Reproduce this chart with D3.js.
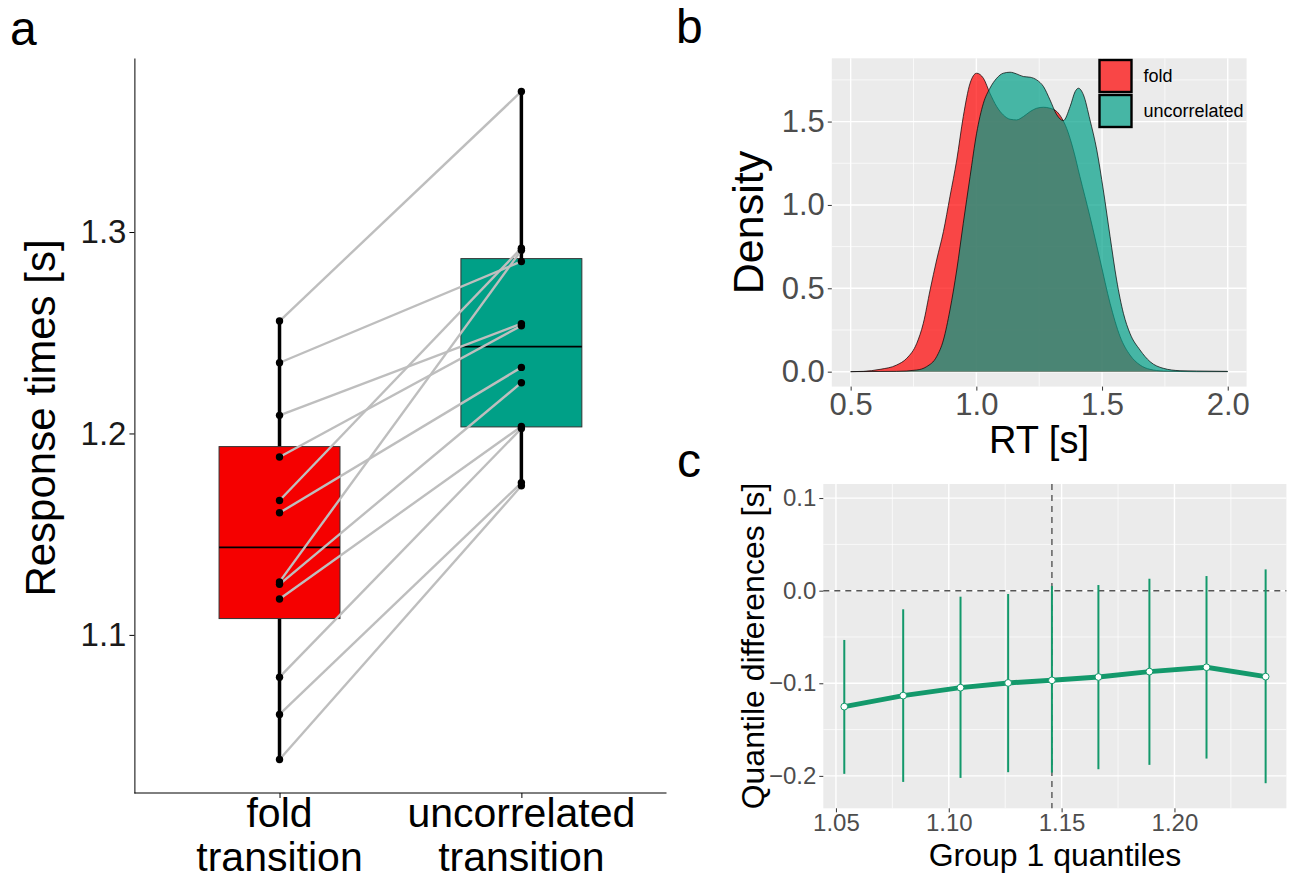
<!DOCTYPE html>
<head>
<meta charset='utf-8'>
<style>
  body { margin: 0; background: #fff; font-family: 'Liberation Sans', Arial, sans-serif; }
  .panel-bg { fill: #ebebeb; }
  .grid-major { stroke: #fff; stroke-width: 1.4px; }
  .grid-minor { stroke: #fff; stroke-width: 0.7px; }
  .axis-a path, .axis-a line { stroke: #000; stroke-width: 1px; }
  .axis-g line { stroke: #333; stroke-width: 1px; }
  .axis-g path { display: none; }
  .tick-grey text { fill: #4d4d4d; }
</style>
</head>
<body>
<svg id='fig' width='1290' height='880'></svg>
<script src='https://cdn.jsdelivr.net/npm/d3@7'></script>
<script>
  // ---- panel a: paired response times
  const conditions = ['fold', 'uncorrelated']
  const condLabels = [['fold', 'transition'], ['uncorrelated', 'transition']]
  const foldRT = [1.2558, 1.2351, 1.2090, 1.1883, 1.1667, 1.1606, 1.1263, 1.1251, 1.1178, 1.0790, 1.0605, 1.0381]
  const uncRT  = [1.3698, 1.2854, 1.2545, 1.2535, 1.2920, 1.2328, 1.2910, 1.2252, 1.2035, 1.2025, 1.1755, 1.1740]
  const rtTicksA = [1.1, 1.2, 1.3]
  const boxColors = ['#f50000', '#00a087']

  // ---- panel b: RT densities
  const foldDensX = [0.500, 0.550, 0.617, 0.683, 0.723, 0.763, 0.789, 0.816, 0.842, 0.869, 0.895, 0.922, 0.948, 0.975, 1.001, 1.028, 1.054, 1.081, 1.107, 1.134, 1.160, 1.187, 1.214, 1.240, 1.267, 1.293, 1.320, 1.340, 1.359, 1.386, 1.412, 1.452, 1.492, 1.532, 1.572, 1.611, 1.651, 1.691, 1.744, 1.877, 2.000]
  const foldDens  = [0.000, 0.002, 0.014, 0.040, 0.080, 0.170, 0.290, 0.490, 0.670, 0.840, 1.050, 1.270, 1.530, 1.730, 1.790, 1.760, 1.670, 1.590, 1.540, 1.514, 1.510, 1.530, 1.560, 1.580, 1.586, 1.580, 1.560, 1.520, 1.460, 1.330, 1.170, 0.930, 0.670, 0.410, 0.210, 0.100, 0.040, 0.014, 0.004, 0.000, 0.000]
  const uncDensX  = [0.500, 0.683, 0.763, 0.802, 0.842, 0.869, 0.895, 0.922, 0.948, 0.975, 1.001, 1.028, 1.054, 1.081, 1.107, 1.134, 1.160, 1.187, 1.214, 1.240, 1.267, 1.293, 1.320, 1.346, 1.373, 1.393, 1.406, 1.426, 1.452, 1.479, 1.505, 1.532, 1.558, 1.585, 1.611, 1.651, 1.691, 1.744, 1.810, 1.877, 2.000]
  const uncDens   = [0.000, 0.002, 0.010, 0.030, 0.090, 0.190, 0.370, 0.610, 0.890, 1.170, 1.430, 1.610, 1.700, 1.760, 1.790, 1.796, 1.786, 1.770, 1.766, 1.750, 1.710, 1.630, 1.540, 1.506, 1.590, 1.680, 1.700, 1.660, 1.510, 1.330, 1.090, 0.810, 0.550, 0.350, 0.230, 0.130, 0.060, 0.020, 0.006, 0.004, 0.002]
  const densXTicks = [0.5, 1.0, 1.5, 2.0]
  const densYTicks = [0, 0.5, 1.0, 1.5]
  const densColors = ['#ff0000', '#00a087']

  // ---- panel c: shift function
  const quantX   = [1.0537, 1.0798, 1.1052, 1.1263, 1.1457, 1.1663, 1.1889, 1.2142, 1.2404]
  const quantDiff = [-0.1252, -0.1133, -0.1047, -0.0996, -0.0968, -0.0932, -0.0874, -0.0827, -0.0928]
  const ciLow  = [-0.1978, -0.2065, -0.2022, -0.1960, -0.1964, -0.1928, -0.1881, -0.1813, -0.2079]
  const ciHigh = [-0.0532, -0.0201, -0.0065, -0.0036, 0.0050, 0.0061, 0.0129, 0.0158, 0.0230]
  const groupMedian = 1.1457
  const qxTicks = [1.05, 1.10, 1.15, 1.20]
  const qyTicks = [-0.2, -0.1, 0.0, 0.1]
  const shiftColor = '#13996b'

  const svg = d3.select('#fig')

  // panel letters
  svg.append('text').attr('x', 10).attr('y', 45).attr('font-size', 48).text('a')
  svg.append('text').attr('x', 676).attr('y', 43).attr('font-size', 48).text('b')
  svg.append('text').attr('x', 677).attr('y', 477).attr('font-size', 48).text('c')

  // ================= panel a =================
  const xA = d3.scalePoint().domain(conditions).range([134.4, 666.5]).padding(0.6)
  const yA = d3.scaleLinear().domain([1.0215, 1.3864]).range([793, 58])
  const gA = svg.append('g')

  const series = [foldRT, uncRT]
  const stats = series.map((vals, i) => {
    const s = vals.slice().sort(d3.ascending)
    return {
      cond: conditions[i],
      q1: d3.quantile(s, 0.25), med: d3.quantile(s, 0.5), q3: d3.quantile(s, 0.75),
      min: s[0], max: s[s.length - 1], color: boxColors[i]
    }
  })
  const boxW = xA.step() * 0.5

  // whiskers (behind boxes)
  gA.selectAll('.whisker').data(stats).enter().append('line')
    .attr('x1', d => xA(d.cond)).attr('x2', d => xA(d.cond))
    .attr('y1', d => yA(d.min)).attr('y2', d => yA(d.max))
    .attr('stroke', '#000').attr('stroke-width', 3.5)

  gA.selectAll('.box').data(stats).enter().append('rect')
    .attr('x', d => xA(d.cond) - boxW / 2).attr('width', boxW)
    .attr('y', d => yA(d.q3)).attr('height', d => yA(d.q1) - yA(d.q3))
    .attr('fill', d => d.color).attr('stroke', '#333').attr('stroke-width', 1)

  gA.selectAll('.median').data(stats).enter().append('line')
    .attr('x1', d => xA(d.cond) - boxW / 2).attr('x2', d => xA(d.cond) + boxW / 2)
    .attr('y1', d => yA(d.med)).attr('y2', d => yA(d.med))
    .attr('stroke', '#000').attr('stroke-width', 1.8)

  // paired lines
  const pairs = foldRT.map((v, i) => [v, uncRT[i]])
  gA.selectAll('.pair').data(pairs).enter().append('line')
    .attr('x1', xA('fold')).attr('x2', xA('uncorrelated'))
    .attr('y1', d => yA(d[0])).attr('y2', d => yA(d[1]))
    .attr('stroke', '#bebebe').attr('stroke-width', 2.4)

  series.forEach((vals, i) => {
    gA.selectAll('.dot' + i).data(vals).enter().append('circle')
      .attr('cx', xA(conditions[i])).attr('cy', d => yA(d))
      .attr('r', 3.7).attr('fill', '#000')
  })

  const axLeftA = svg.append('g').attr('class', 'axis-a')
    .attr('transform', 'translate(134.4,0)')
    .call(d3.axisLeft(yA).tickValues(rtTicksA).tickFormat(d3.format('.1f')).tickSize(5).tickSizeOuter(0).tickPadding(3))
  axLeftA.selectAll('text').attr('font-size', 33).attr('fill', '#1a1a1a').attr('font-family', 'Liberation Sans, Arial, sans-serif')

  const axBotA = svg.append('g').attr('class', 'axis-a')
    .attr('transform', 'translate(0,793)')
    .call(d3.axisBottom(xA).tickSize(5).tickSizeOuter(0).tickFormat(''))
  axBotA.select('.domain').attr('d', 'M134.4,0H666.5')
  condLabels.forEach((lines, i) => {
    const t = svg.append('text').attr('text-anchor', 'middle').attr('font-size', 41).attr('fill', '#000')
    lines.forEach((l, j) => t.append('tspan').attr('x', xA(conditions[i])).attr('y', 827 + j * 44).text(l))
  })
  svg.append('text').attr('transform', 'translate(55,418) rotate(-90)')
    .attr('text-anchor', 'middle').attr('font-size', 42).text('Response times [s]')

  // ================= panel b =================
  const xB = d3.scaleLinear().domain([0.425, 2.075]).range([831.8, 1246.6])
  const yB = d3.scaleLinear().domain([-0.0895, 1.8795]).range([386.6, 58.3])
  const gB = svg.append('g')
  gB.append('rect').attr('class', 'panel-bg')
    .attr('x', 831.8).attr('y', 58.3).attr('width', 1246.6 - 831.8).attr('height', 386.6 - 58.3)
  const minorXB = densXTicks.slice(0, -1).map(d => d + 0.25)
  const minorYB = densYTicks.map(d => d + 0.25)
  gB.selectAll('.mxb').data(minorXB).enter().append('line').attr('class', 'grid-minor')
    .attr('x1', d => xB(d)).attr('x2', d => xB(d)).attr('y1', 58.3).attr('y2', 386.6)
  gB.selectAll('.myb').data(minorYB).enter().append('line').attr('class', 'grid-minor')
    .attr('y1', d => yB(d)).attr('y2', d => yB(d)).attr('x1', 831.8).attr('x2', 1246.6)
  gB.selectAll('.gxb').data(densXTicks).enter().append('line').attr('class', 'grid-major')
    .attr('x1', d => xB(d)).attr('x2', d => xB(d)).attr('y1', 58.3).attr('y2', 386.6)
  gB.selectAll('.gyb').data(densYTicks).enter().append('line').attr('class', 'grid-major')
    .attr('y1', d => yB(d)).attr('y2', d => yB(d)).attr('x1', 831.8).attr('x2', 1246.6)

  const densSeries = [
    { pts: foldDensX.map((x, i) => [x, foldDens[i]]), color: densColors[0] },
    { pts: uncDensX.map((x, i) => [x, uncDens[i]]), color: densColors[1] }
  ]
  const area = d3.area().x(d => xB(d[0])).y0(yB(0)).y1(d => yB(d[1])).curve(d3.curveMonotoneX)
  const outline = d3.line().x(d => xB(d[0])).y(d => yB(d[1])).curve(d3.curveMonotoneX)
  densSeries.forEach(s => {
    gB.append('path').attr('d', area(s.pts)).attr('fill', s.color).attr('fill-opacity', 0.7)
    gB.append('path').attr('d', outline(s.pts)).attr('fill', 'none').attr('stroke', '#000').attr('stroke-width', 0.7)
  })

  const axLeftB = svg.append('g').attr('class', 'axis-g tick-grey')
    .attr('transform', 'translate(831.8,0)')
    .call(d3.axisLeft(yB).tickValues(densYTicks).tickFormat(d3.format('.1f')).tickSize(4).tickPadding(3))
  axLeftB.selectAll('text').attr('font-size', 31).attr('font-family', 'Liberation Sans, Arial, sans-serif')
  const axBotB = svg.append('g').attr('class', 'axis-g tick-grey')
    .attr('transform', 'translate(0,386.6)')
    .call(d3.axisBottom(xB).tickValues(densXTicks).tickFormat(d3.format('.1f')).tickSize(4).tickPadding(2))
  axBotB.selectAll('text').attr('font-size', 31).attr('font-family', 'Liberation Sans, Arial, sans-serif')

  svg.append('text').attr('transform', 'translate(763,222.5) rotate(-90)')
    .attr('text-anchor', 'middle').attr('font-size', 43).text('Density')
  svg.append('text').attr('x', 1039).attr('y', 453)
    .attr('text-anchor', 'middle').attr('font-size', 38).text('RT [s]')

  // legend
  const legend = svg.append('g').attr('transform', 'translate(1099.5,60)')
  const legItems = ['fold', 'uncorrelated']
  legend.selectAll('.key-bg').data(legItems).enter().append('rect')
    .attr('x', 0).attr('y', (d, i) => i * 35).attr('width', 32).attr('height', 32).attr('fill', '#ebebeb')
  legend.selectAll('.key').data(legItems).enter().append('rect')
    .attr('x', 0).attr('y', (d, i) => i * 35).attr('width', 32).attr('height', 32)
    .attr('fill', (d, i) => densColors[i]).attr('fill-opacity', 0.7)
    .attr('stroke', '#000').attr('stroke-width', 2.4)
  legend.selectAll('.lab').data(legItems).enter().append('text')
    .attr('x', 44).attr('y', (d, i) => i * 35 + 22).attr('font-size', 18).text(d => d)

  // ================= panel c =================
  const xC = d3.scaleLinear().domain([1.0444, 1.2496]).range([823.3, 1286.4])
  const yC = d3.scaleLinear().domain([-0.235, 0.1152]).range([808.3, 484])
  const gC = svg.append('g')
  gC.append('rect').attr('class', 'panel-bg')
    .attr('x', 823.3).attr('y', 484).attr('width', 1286.4 - 823.3).attr('height', 808.3 - 484)
  const minorXC = [1.075, 1.125, 1.175, 1.225]
  const minorYC = [-0.15, -0.05, 0.05]
  gC.selectAll('.mxc').data(minorXC).enter().append('line').attr('class', 'grid-minor')
    .attr('x1', d => xC(d)).attr('x2', d => xC(d)).attr('y1', 484).attr('y2', 808.3)
  gC.selectAll('.myc').data(minorYC).enter().append('line').attr('class', 'grid-minor')
    .attr('y1', d => yC(d)).attr('y2', d => yC(d)).attr('x1', 823.3).attr('x2', 1286.4)
  gC.selectAll('.gxc').data(qxTicks).enter().append('line').attr('class', 'grid-major')
    .attr('x1', d => xC(d)).attr('x2', d => xC(d)).attr('y1', 484).attr('y2', 808.3)
  gC.selectAll('.gyc').data(qyTicks).enter().append('line').attr('class', 'grid-major')
    .attr('y1', d => yC(d)).attr('y2', d => yC(d)).attr('x1', 823.3).attr('x2', 1286.4)

  gC.append('line').attr('x1', 823.3).attr('x2', 1286.4).attr('y1', yC(0)).attr('y2', yC(0))
    .attr('stroke', '#555').attr('stroke-width', 1.4).attr('stroke-dasharray', '6,5')
  gC.append('line').attr('x1', xC(groupMedian)).attr('x2', xC(groupMedian)).attr('y1', 484).attr('y2', 808.3)
    .attr('stroke', '#555').attr('stroke-width', 1.4).attr('stroke-dasharray', '6,5')

  gC.selectAll('.ci').data(quantX).enter().append('line')
    .attr('x1', d => xC(d)).attr('x2', d => xC(d))
    .attr('y1', (d, i) => yC(ciLow[i])).attr('y2', (d, i) => yC(ciHigh[i]))
    .attr('stroke', shiftColor).attr('stroke-width', 2)
  const shiftPts = quantX.map((x, i) => [x, quantDiff[i]])
  gC.append('path').attr('d', d3.line().x(d => xC(d[0])).y(d => yC(d[1]))(shiftPts))
    .attr('fill', 'none').attr('stroke', shiftColor).attr('stroke-width', 5)
  gC.selectAll('.qp').data(shiftPts).enter().append('circle')
    .attr('cx', d => xC(d[0])).attr('cy', d => yC(d[1])).attr('r', 3.4)
    .attr('fill', '#fff').attr('stroke', shiftColor).attr('stroke-width', 1)

  const axLeftC = svg.append('g').attr('class', 'axis-g tick-grey')
    .attr('transform', 'translate(823.3,0)')
    .call(d3.axisLeft(yC).tickValues(qyTicks).tickFormat(d3.format('.1f')).tickSize(4).tickPadding(3))
  axLeftC.selectAll('text').attr('font-size', 24).attr('font-family', 'Liberation Sans, Arial, sans-serif')
  const axBotC = svg.append('g').attr('class', 'axis-g tick-grey')
    .attr('transform', 'translate(0,808.3)')
    .call(d3.axisBottom(xC).tickValues(qxTicks).tickFormat(d3.format('.2f')).tickSize(4).tickPadding(2))
  axBotC.selectAll('text').attr('font-size', 24).attr('font-family', 'Liberation Sans, Arial, sans-serif')

  svg.append('text').attr('transform', 'translate(764,646) rotate(-90)')
    .attr('text-anchor', 'middle').attr('font-size', 32).text('Quantile differences [s]')
  svg.append('text').attr('x', 1055).attr('y', 866)
    .attr('text-anchor', 'middle').attr('font-size', 32).text('Group 1 quantiles')
</script>
</body>
